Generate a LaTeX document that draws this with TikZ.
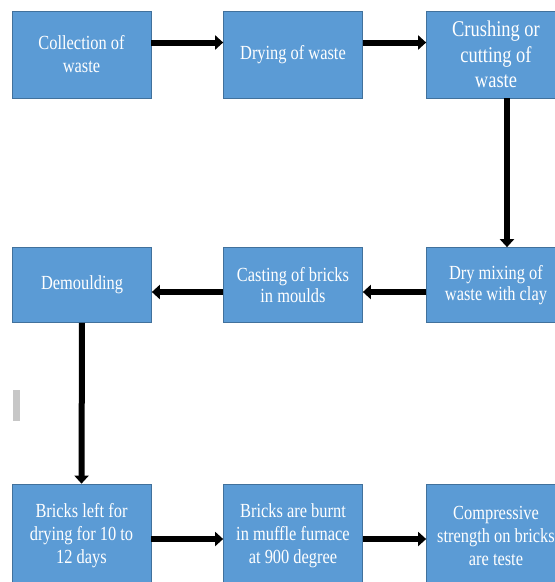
\documentclass[tikz,border=0pt]{standalone}
\usepackage{fontspec}
\setmainfont{Liberation Serif}
\newfontfamily\boxfont[FakeStretch=0.82]{Liberation Serif}
\usepackage{tikz}
\usetikzlibrary{arrows.meta}
\definecolor{boxblue}{HTML}{5B9BD5}
\definecolor{boxline}{HTML}{41719C}

\begin{document}
\begin{tikzpicture}[x=1pt, y=-1pt,
  mynode/.style={rectangle, draw=boxline, line width=0.7pt, fill=boxblue,
    text=white, align=center, minimum width=139pt, minimum height=87pt,
    inner sep=2pt, font=\boxfont\fontsize{20}{23}\selectfont},
  myarrow/.style={line width=6pt, -{Triangle[width=14pt,length=8pt]}}]
\useasboundingbox (0,0) rectangle (555,582);

%row 1
  \node[mynode] (A) at (81.5,54.5) {Collection of\\waste};
  \node[mynode] (B) at (293,54.5) {Drying of waste};
  \node[mynode, font=\boxfont\fontsize{22.5}{25.5}\selectfont] (C) at (496,54.5) {Crushing or\\cutting of\\waste};

%row 2
  \node[mynode, minimum height=75pt, font=\boxfont\fontsize{20}{21.5}\selectfont] (D) at (496,285) {Dry mixing of\\waste with clay};
  \node[mynode, minimum height=75pt, font=\boxfont\fontsize{20}{21.5}\selectfont] (E) at (293,285) {Casting of bricks\\in moulds};
  \node[mynode, minimum height=75pt] (F) at (82,285) {Demoulding};

%row 3
  \node[mynode, minimum height=104pt] (G) at (81.5,536) {Bricks left for\\drying for 10 to\\12 days};
  \node[mynode, minimum height=104pt] (H) at (293,536) {Bricks are burnt\\in muffle furnace\\at 900 degree};
  \node[mynode, minimum height=104pt] (I) at (496,536) {Compressive\\strength on bricks\\are teste};

%grey mark
  \fill[black!22] (13,390) rectangle (20,421);

%arrows
  \draw[myarrow] ([yshift=12pt]A.east) -- ([yshift=12pt]B.west);
  \draw[myarrow] ([yshift=12pt]B.east) -- ([yshift=12pt]C.west);
  \draw[myarrow] ([xshift=11pt]C.south) -- ([xshift=11pt]D.north);
  \draw[myarrow] ([yshift=-7pt]D.west) -- ([yshift=-7pt]E.east);
  \draw[myarrow] ([yshift=-7pt]E.west) -- ([yshift=-7pt]F.east);
  \draw[myarrow] (F.south) -- (G.north);
  \draw[myarrow] ([yshift=-3pt]G.east) -- ([yshift=-3pt]H.west);
  \draw[myarrow] ([yshift=-3pt]H.east) -- ([yshift=-3pt]I.west);
\end{tikzpicture}
\end{document}
